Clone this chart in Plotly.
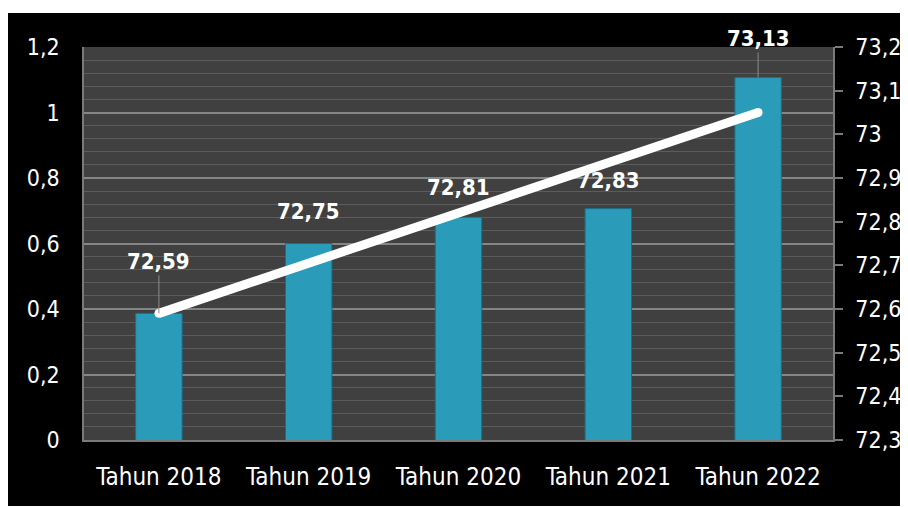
import plotly.graph_objects as go

categories = ["Tahun 2018", "Tahun 2019", "Tahun 2020", "Tahun 2021", "Tahun 2022"]
values = [72.59, 72.75, 72.81, 72.83, 73.13]
value_labels = ["72,59", "72,75", "72,81", "72,83", "73,13"]
trend_x = ["Tahun 2018", "Tahun 2022"]
trend_y = [72.59, 73.05]

# label offsets (px) and whether a leader line is drawn
label_offsets = [-52, -32, -30, -28, -39]
label_leader = [True, False, False, False, True]

FONT = "Liberation Sans Narrow, Arial Narrow, DejaVu Sans Condensed, sans-serif"

fig = go.Figure()
# invisible trace to activate the primary (left) axis
fig.add_trace(go.Scatter(x=categories, y=[None] * len(categories), yaxis="y",
                         mode="markers", hoverinfo="skip", showlegend=False))
fig.add_trace(go.Bar(
    x=categories, y=values, yaxis="y2",
    marker=dict(color="#2a9bb8", line=dict(color="#1c6f86", width=1)),
    hoverinfo="skip", showlegend=False,
))
fig.add_trace(go.Scatter(
    x=trend_x, y=trend_y, yaxis="y2", mode="lines+markers",
    line=dict(color="white", width=9),
    marker=dict(color="white", size=9, line=dict(width=0)),
    hoverinfo="skip", showlegend=False,
))

for c, v, t, off, lead in zip(categories, values, value_labels, label_offsets, label_leader):
    if lead:
        fig.add_annotation(x=c, y=v, xref="x", yref="y2", text=f"<b>{t}</b>",
                           showarrow=True, arrowhead=0, arrowwidth=1, arrowcolor="#8a8a8a",
                           ax=0, ay=off, standoff=0,
                           font=dict(family=FONT, size=22, color="white"))
    else:
        fig.add_annotation(x=c, y=v, xref="x", yref="y2", text=f"<b>{t}</b>",
                           showarrow=False, yshift=-off,
                           font=dict(family=FONT, size=22, color="white"))

# white outer strips (top and bottom)
for x0, x1, y0, y1 in [(-0.3, 1.3, 1.0865, 1.3), (-0.3, 1.3, -0.3, -0.168)]:
    fig.add_shape(type="rect", xref="paper", yref="paper", x0=x0, x1=x1, y0=y0, y1=y1,
                  fillcolor="white", line=dict(width=0), layer="above")

fig.update_layout(
    width=900, height=499,
    margin=dict(l=76, r=75, t=39, b=67, autoexpand=False),
    paper_bgcolor="black", plot_bgcolor="#404040",
    separators=",.",
    bargap=0.69,
    font=dict(family=FONT, size=23, color="white"),
    xaxis=dict(showgrid=False, showline=True, linecolor="#7a7a7a", linewidth=2, automargin=False,
               ticks="", tickfont=dict(size=24, color="white"), ticklabelstandoff=14),
    yaxis=dict(range=[0, 1.2], dtick=0.2, tick0=0, showgrid=True, gridcolor="#858585", gridwidth=1.5,
               minor=dict(dtick=0.04, showgrid=True, gridcolor="#5c5c5c", gridwidth=1),
               showline=True, linecolor="#7a7a7a", linewidth=1.5, zeroline=False, automargin=False,
               ticks="", ticklabelstandoff=18, tickfont=dict(size=23, color="white")),
    yaxis2=dict(range=[72.3, 73.2], dtick=0.1, tick0=72.3, overlaying="y", side="right",
                showgrid=False, showline=True, linecolor="#7a7a7a", linewidth=1.5, zeroline=False,
                automargin=False,
                ticks="outside", ticklen=8, tickcolor="#7a7a7a", tickwidth=1.5,
                ticklabelstandoff=8, tickfont=dict(size=23, color="white")),
)

fig.write_html("out.html")
